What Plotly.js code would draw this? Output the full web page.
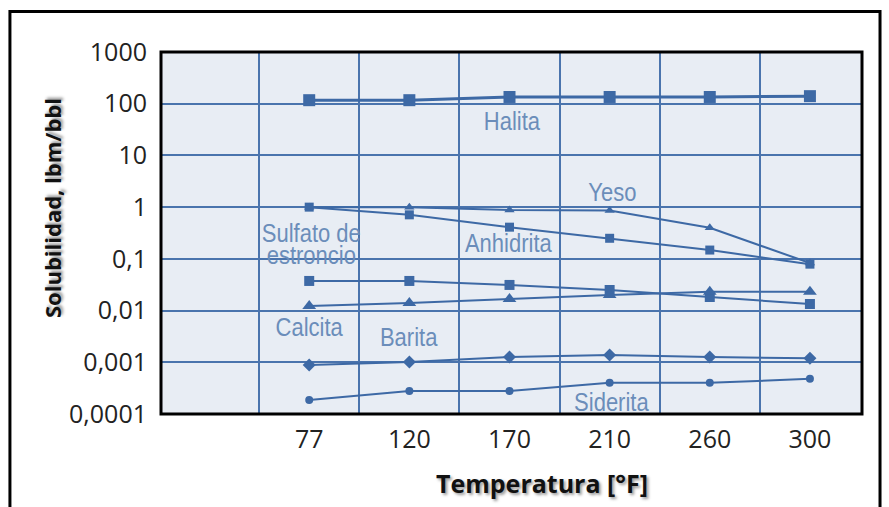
<!DOCTYPE html>
<html>
<head>
<meta charset="utf-8">
<script src="https://cdn.plot.ly/plotly-3.0.1.min.js"></script>
<style>html,body{margin:0;padding:0;background:#fff;}#chart{width:889px;height:507px;}</style>
</head>
<body>
<div id="chart"></div>
<script>
// Categories (temperature, °F)
var temps = ['77', '120', '170', '210', '260', '300'];
var positions = [0, 1, 2, 3, 4, 5];

// Solubility series (lbm/bbl)
var halita   = [117, 117, 135, 135, 135, 140];
var yeso     = [1.0, 1.0, 0.88, 0.86, 0.40, 0.083];
var anhidrita = [1.0, 0.71, 0.41, 0.25, 0.148, 0.079];
var sulfatoEstroncio = [0.0374, 0.0374, 0.0313, 0.025, 0.0183, 0.0134];
var calcita  = [0.0123, 0.014, 0.0168, 0.020, 0.023, 0.023];
var barita   = [0.00089, 0.00101, 0.00126, 0.00139, 0.00126, 0.0012];
var siderita = [0.000187, 0.00028, 0.00028, 0.0004, 0.0004, 0.00048];

// Y tick labels
var yTickVals = [0.0001, 0.001, 0.01, 0.1, 1, 10, 100, 1000];
var yTickText = ['0,0001', '0,001', '0,01', '0,1', '1', '10', '100', '1000'];

// Series labels (text, x position, log10 y)
var labelText = ['Halita', 'Yeso', 'Sulfato de<br>estroncio', 'Anhidrita', 'Calcita', 'Barita', 'Siderita'];
var labelX    = [2.02, 3.03, 0.02, 1.99, 0.0, 0.99, 3.02];
var labelY    = [1.667, 0.294, -0.828, -0.692, -2.317, -2.511, -3.768];

var xTitle = 'Temperatura [°F]';
var yTitle = 'Solubilidad, lbm/bbl';

var lineCol = '#3d69a5';
var gridCol = '#4a74ad';

function series(name, y, symbol, size, lw) {
  return {
    type: 'scatter', mode: 'lines+markers', name: name,
    x: positions, y: y,
    line: {color: lineCol, width: lw || 2},
    marker: {symbol: symbol, size: size, color: lineCol},
    hoverinfo: 'skip'
  };
}

var data = [
  series('Halita', halita, 'square', 12, 3),
  series('Yeso', yeso, 'triangle-up', 9),
  series('Anhidrita', anhidrita, 'square', 9),
  series('Sulfato de estroncio', sulfatoEstroncio, 'square', 10),
  series('Calcita', calcita, 'triangle-up', 12),
  series('Barita', barita, 'diamond', 10),
  series('Siderita', siderita, 'circle', 8)
];

var labelFont = {family: 'Liberation Sans, Arial, sans-serif', size: 25, color: '#6b8dba'};
var titleFont = {family: 'Open Sans, sans-serif', color: '#111', weight: 'bold', shadow: '2px 2px 3px #999'};

var annotations = labelText.map(function (t, i) {
  return {
    text: t, x: labelX[i], y: labelY[i], xref: 'x', yref: 'y',
    showarrow: false, font: labelFont
  };
});
annotations.push({
  text: xTitle, xref: 'paper', yref: 'paper', x: 0.5435, y: -0.19,
  xanchor: 'center', yanchor: 'middle',
  showarrow: false, font: Object.assign({size: 25}, titleFont)
});
annotations.push({
  text: yTitle, xref: 'paper', yref: 'paper', x: -0.1555, y: 0.569, textangle: -90,
  xanchor: 'center', yanchor: 'middle',
  showarrow: false, font: Object.assign({size: 22}, titleFont)
});

var layout = {
  width: 889, height: 507,
  margin: {l: 161, r: 27, t: 52, b: 93},
  paper_bgcolor: '#ffffff',
  plot_bgcolor: '#e8edf4',
  showlegend: false,
  font: {family: 'Open Sans, sans-serif', color: '#222'},
  xaxis: {
    range: [-1.48, 5.52],
    tickmode: 'array', tickvals: positions, ticktext: temps,
    showgrid: false, zeroline: false, ticks: '',
    tickfont: {size: 25, color: '#222'},
    ticklabelstandoff: 8,
    minor: {tickmode: 'array', tickvals: [-0.5, 0.5, 1.5, 2.5, 3.5, 4.5], showgrid: true, gridcolor: gridCol, gridwidth: 2, ticks: ''}
  },
  yaxis: {
    type: 'log', range: [-4, 3],
    tickmode: 'array', tickvals: yTickVals, ticktext: yTickText,
    showgrid: true, gridcolor: gridCol, gridwidth: 2, zeroline: false, ticks: '',
    tickfont: {size: 25, color: '#222'},
    ticklabelstandoff: 13
  },
  annotations: annotations,
  shapes: [
    {type: 'rect', xref: 'paper', yref: 'paper', x0: 0, x1: 1, y0: 0, y1: 1,
     line: {color: '#000', width: 3}, layer: 'above'},
    {type: 'rect', xref: 'paper', yref: 'paper', x0: -0.2155, x1: 1.0257, y0: -0.3, y1: 1.112,
     line: {color: '#000', width: 3}, layer: 'above'}
  ]
};

Plotly.newPlot('chart', data, layout, {staticPlot: true}).then(function () {
  // condense the series labels (narrow typeface look) and tighten line spacing
  var nodes = document.querySelectorAll('.annotation-text');
  for (var i = 0; i < labelText.length && i < nodes.length; i++) {
    var n = nodes[i];
    var lines = n.querySelectorAll('tspan.line');
    if (lines.length > 1) {
      for (var k = 1; k < lines.length; k++) lines[k].setAttribute('dy', '0.88em');
    }
    var bb = n.getBBox();
    var cx = bb.x + bb.width / 2;
    var prev = n.getAttribute('transform') || '';
    n.setAttribute('transform', prev + ' translate(' + cx + ',0) scale(0.88,1) translate(' + (-cx) + ',0)');
  }
});
</script>
</body>
</html>
